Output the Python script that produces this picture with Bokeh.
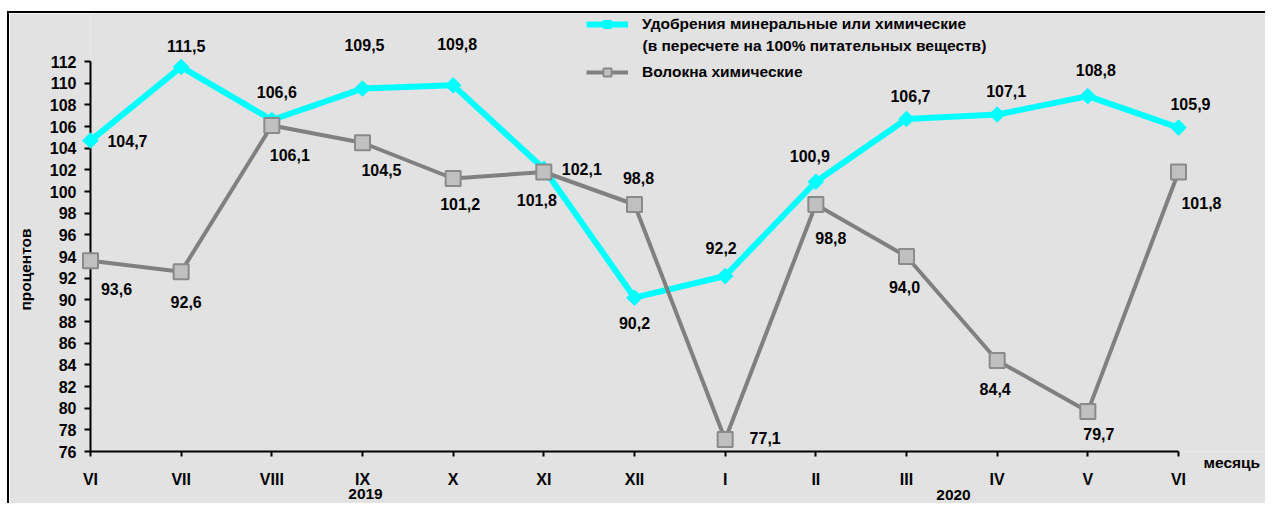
import math
from bokeh.plotting import figure
from bokeh.models import (ColumnDataSource, Range1d, FixedTicker, LabelSet,
                          Legend, LegendItem)
from bokeh.core.properties import value
from bokeh.embed import file_html
from bokeh.resources import INLINE

# ---- data ----
months = ["VI", "VII", "VIII", "IX", "X", "XI", "XII", "I", "II", "III", "IV", "V", "VI"]
fertilizers = [104.7, 111.5, 106.6, 109.5, 109.8, 102.1, 90.2, 92.2, 100.9, 106.7, 107.1, 108.8, 105.9]
fibers = [93.6, 92.6, 106.1, 104.5, 101.2, 101.8, 98.8, 77.1, 98.8, 94.0, 84.4, 79.7, 101.8]
y_ticks = list(range(76, 113, 2))
series_names = ["Удобрения минеральные или химические",
                "(в пересчете на 100% питательных веществ)",
                "Волокна химические"]
years = ["2019", "2020"]
y_title = "процентов"
x_title = "месяць"

# ---- label placement (screen px, dy positive = downward) ----
fert_dx = [37, 5, 5, 2, 4, 38, 0, -4, -6, 4, 9, 8, 12]
fert_dy = [0, -21, -28, -44, -41, 0, 25, -28, -26, -23, -24, -26, -24]
fib_dx = [26, 5, 18, 19, 7, -7, 4, 40, 15, -2, -2, 11, 23]
fib_dy = [28, 30, 30, 27, 25, 28, -27, -2, 33, 30, 28, 23, 31]

FONT = "Liberation Sans"
BG = "#e2e2e2"

def fmt(v):
    return f"{v:.1f}".replace(".", ",")

xs = list(range(len(months)))

# layout in pixels (page coordinates of reference)
W, H = 1258, 492
frame_left, frame_top, frame_bottom = 81, 0, 438
px_per_x = (1179 - 91) / 12.0
px_per_y = (452 - 62) / 36.0
x_end = 12 + (W - frame_left - 12 * px_per_x) / px_per_x
y_end = 76 + (frame_bottom - frame_top) / px_per_y

p = figure(width=W, height=H, output_backend="svg", toolbar_location=None,
           x_range=Range1d(0, x_end), y_range=Range1d(76, y_end),
           min_border_left=frame_left, min_border_right=0, min_border_top=0,
           min_border_bottom=H - frame_bottom)
p.title.visible = False
p.background_fill_color = BG
p.border_fill_color = BG
p.outline_line_color = None
p.xgrid.visible = False
p.ygrid.visible = False
p.styles = {"margin-top": "11px", "margin-left": "7px",
            "border-top": "2px solid #000", "border-left": "2px solid #000"}

# axes
for ax in (p.xaxis[0], p.yaxis[0]):
    ax.axis_line_width = 2
    ax.axis_line_color = "#000000"
    ax.major_tick_line_width = 2
    ax.major_tick_line_color = "#000000"
    ax.major_tick_in = 0
    ax.minor_tick_line_color = None
    ax.major_label_text_font = FONT
    ax.major_label_text_font_style = "bold"
    ax.major_label_text_font_size = "16px"
    ax.major_label_text_color = "#000000"

xa = p.xaxis[0]
xa.ticker = FixedTicker(ticks=xs)
xa.major_label_overrides = {i: m for i, m in enumerate(months)}
xa.bounds = (0, 12)
xa.major_tick_out = 5
xa.major_label_standoff = 14

ya = p.yaxis[0]
ya.ticker = FixedTicker(ticks=y_ticks)
ya.bounds = (76, 112)
ya.major_tick_out = 6
ya.major_label_standoff = 8

src = ColumnDataSource(dict(
    x=xs, fert=fertilizers, fib=fibers,
    fert_txt=[fmt(v) for v in fertilizers], fib_txt=[fmt(v) for v in fibers],
    fert_dx=fert_dx, fert_dy=[-d for d in fert_dy],
    fib_dx=fib_dx, fib_dy=[-d for d in fib_dy],
))

l1 = p.line("x", "fert", source=src, line_color="#00ffff", line_width=6, level="overlay")
m1 = p.scatter("x", "fert", source=src, marker="square", angle=math.pi / 4, size=11,
               fill_color="#00ffff", line_color="#00ffff", level="overlay")
l2 = p.line("x", "fib", source=src, line_color="#808080", line_width=4, level="overlay")
m2 = p.scatter("x", "fib", source=src, marker="square", size=15, fill_color="#c0c0c0",
               line_color="#8a8a8a", line_width=2, level="overlay")

common = dict(text_font=value(FONT), text_font_style="bold", text_font_size="16px",
              text_color="#000000", text_align="center", text_baseline="middle")
p.add_layout(LabelSet(x="x", y="fert", text="fert_txt", x_offset="fert_dx", y_offset="fert_dy",
                      source=src, **common))
p.add_layout(LabelSet(x="x", y="fib", text="fib_txt", x_offset="fib_dx", y_offset="fib_dy",
                      source=src, **common))

# legend
legend = Legend(items=[LegendItem(label=series_names[0], renderers=[l1, m1]),
                       LegendItem(label=series_names[2], renderers=[l2, m2])],
                location=(496, 452 - 83), orientation="vertical",
                glyph_width=42, glyph_height=20, label_height=20, spacing=28,
                label_standoff=14, padding=0, margin=0,
                border_line_color=None, background_fill_alpha=0,
                label_text_font=FONT, label_text_font_style="bold",
                label_text_font_size="15.5px", label_text_color="#000000")
p.add_layout(legend, "center")

def dx(px):
    return (px - 91) / px_per_x

def dy(py):
    return 112 - (py - 62) / px_per_y

# free texts as unclipped text glyphs
txt = ColumnDataSource(dict(
    x=[dx(643), dx(1204), dx(366), dx(954)],
    y=[dy(46), dy(463), dy(494), dy(495)],
    t=[series_names[1], x_title, years[0], years[1]],
    a=["left", "left", "center", "center"],
))
p.text("x", "y", text="t", source=txt, text_align="a", text_baseline="middle",
       text_font=value(FONT), text_font_style="bold", text_font_size="15.5px",
       text_color="#000000", level="overlay")
p.text(x=[dx(25.5)], y=[dy(270)], text=[y_title], angle=math.pi / 2,
       text_align="center", text_baseline="middle",
       text_font=value(FONT), text_font_style="bold", text_font_size="15.5px",
       text_color="#000000", level="overlay")

open("out.html", "w").write(file_html(p, INLINE))
